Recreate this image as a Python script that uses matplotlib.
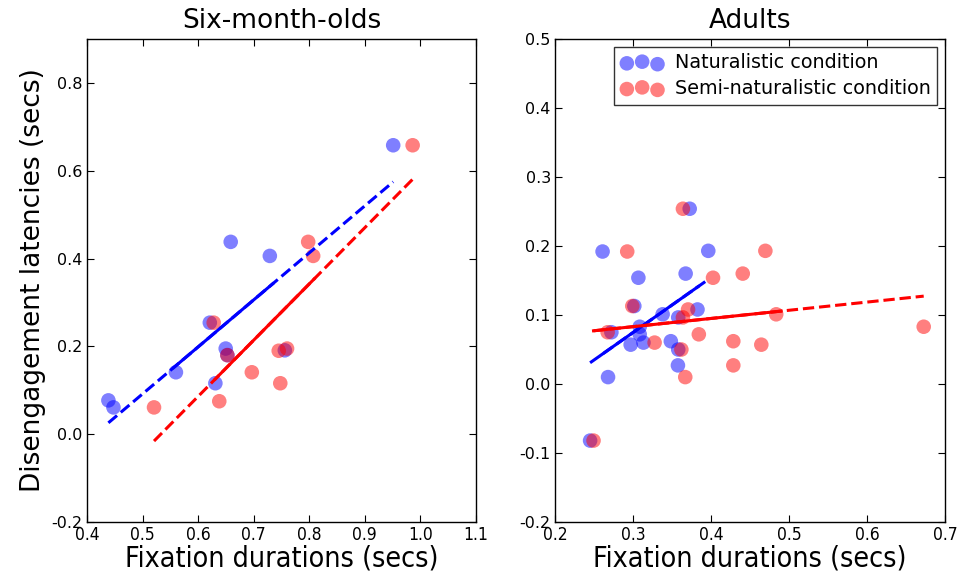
import numpy as np
import matplotlib
matplotlib.use("Agg")
import matplotlib.pyplot as plt

# ---------------- data ----------------
# Six-month-olds
infant_latency = [0.077, 0.061, 0.141, 0.254, 0.116, 0.195, 0.180, 0.438, 0.406, 0.191, 0.658]
infant_fix_nat = [0.4385, 0.4476, 0.560, 0.621, 0.631, 0.6496, 0.6526, 0.6586, 0.729, 0.756, 0.951]
infant_lat_semi = [0.061, 0.254, 0.075, 0.180, 0.141, 0.116, 0.190, 0.195, 0.438, 0.406, 0.658]
infant_fix_semi = [0.5206, 0.628, 0.638, 0.6526, 0.6966, 0.7478, 0.745, 0.760, 0.798, 0.807, 0.986]

# Adults
adult_latency = [0.254, 0.192, 0.193, 0.160, 0.154, 0.113, 0.108, 0.101, 0.0965, 0.083,
                 0.075, 0.072, 0.060, 0.062, 0.057, 0.050, 0.027, 0.010, -0.082]
adult_fix_nat = [0.3727, 0.2610, 0.3965, 0.3675, 0.3069, 0.3017, 0.3827, 0.338, 0.358, 0.3086,
                 0.2723, 0.3086, 0.3134, 0.3485, 0.297, 0.358, 0.3576, 0.2680, 0.245]
adult_fix_semi = [0.364, 0.2926, 0.4697, 0.4407, 0.4026, 0.2991, 0.3706, 0.4836, 0.364, 0.6727,
                  0.2675, 0.3844, 0.3277, 0.4286, 0.4645, 0.362, 0.4286, 0.367, 0.2494]

# x-range over which the fitted line is drawn solid
infant_solid_nat = [0.556, 0.734]
infant_solid_semi = [0.631, 0.809]
adult_solid_nat = [0.258, 0.3835]
adult_solid_semi = [0.2494, 0.49]

titles = ["Six-month-olds", "Adults"]
xlabel = "Fixation durations (secs)"
ylabel = "Disengagement latencies (secs)"
legend_labels = ["Naturalistic condition", "Semi-naturalistic condition"]

# ---------------- plotting ----------------
plt.rcParams['font.family'] = ['DejaVu Sans']
fig = plt.figure(figsize=(9.58, 5.75), dpi=100)
ax1 = fig.add_axes([87/958, 53/575, 389/958, 483/575])
ax2 = fig.add_axes([555/958, 53/575, 390/958, 483/575])

MS = 110
ALPHA = 0.5


def fit_line(ax, x, y, solid, color):
    x = np.asarray(x)
    y = np.asarray(y)
    slope, icpt = np.polyfit(x, y, 1)
    xd = np.array([x.min(), x.max()])
    ax.plot(xd, slope * xd + icpt, color=color, lw=2.2, ls='--', zorder=3)
    xs = np.array(solid)
    ax.plot(xs, slope * xs + icpt, color=color, lw=2.2, ls='-', zorder=3)


# Left
ax1.scatter(infant_fix_nat, infant_latency, s=MS, c='b', alpha=ALPHA, edgecolors='none', zorder=2)
ax1.scatter(infant_fix_semi, infant_lat_semi, s=MS, c='r', alpha=ALPHA, edgecolors='none', zorder=2)
fit_line(ax1, infant_fix_nat, infant_latency, infant_solid_nat, 'b')
fit_line(ax1, infant_fix_semi, infant_lat_semi, infant_solid_semi, 'r')
ax1.set_xlim(0.4, 1.1)
ax1.set_ylim(-0.2, 0.9)
ax1.set_xticks(np.arange(0.4, 1.1001, 0.1))
ax1.set_yticks(np.arange(-0.2, 0.8001, 0.2))

# Right
s1 = ax2.scatter(adult_fix_nat, adult_latency, s=MS, c='b', alpha=ALPHA, edgecolors='none', zorder=2)
s2 = ax2.scatter(adult_fix_semi, adult_latency, s=MS, c='r', alpha=ALPHA, edgecolors='none', zorder=2)
fit_line(ax2, adult_fix_nat, adult_latency, adult_solid_nat, 'b')
fit_line(ax2, adult_fix_semi, adult_latency, adult_solid_semi, 'r')
ax2.set_xlim(0.2, 0.7)
ax2.set_ylim(-0.2, 0.5)
ax2.set_xticks(np.arange(0.2, 0.7001, 0.1))
ax2.set_yticks(np.arange(-0.2, 0.5001, 0.1))

for ax, t in zip([ax1, ax2], titles):
    ax.set_title(t, fontsize=19, pad=8)
    ax.set_xlabel(xlabel, fontsize=20.5, fontstretch='condensed', labelpad=0)
    ax.tick_params(direction='in', top=True, right=True, length=5, width=0.8,
                   labelsize=11.5, pad=3)
    for lab in ax.get_xticklabels():
        lab.set_fontstretch('condensed')
        lab.set_fontsize(12.5)
    for sp in ax.spines.values():
        sp.set_linewidth(1.0)

for ax in (ax1, ax2):
    ax.yaxis.set_major_formatter(matplotlib.ticker.FormatStrFormatter('%.1f'))
    ax.xaxis.set_major_formatter(matplotlib.ticker.FormatStrFormatter('%.1f'))
ax1.set_ylabel(ylabel, fontsize=19, labelpad=4)

leg = ax2.legend([s1, s2], legend_labels, loc='upper right', scatterpoints=3,
                 fontsize=13.8, frameon=True, fancybox=False, borderpad=0.35,
                 handletextpad=0.6, labelspacing=0.35, borderaxespad=0.4,
                 handlelength=2.2)
leg.get_frame().set_edgecolor('black')
leg.get_frame().set_linewidth(1.0)

fig.savefig("out.png", dpi=100)
